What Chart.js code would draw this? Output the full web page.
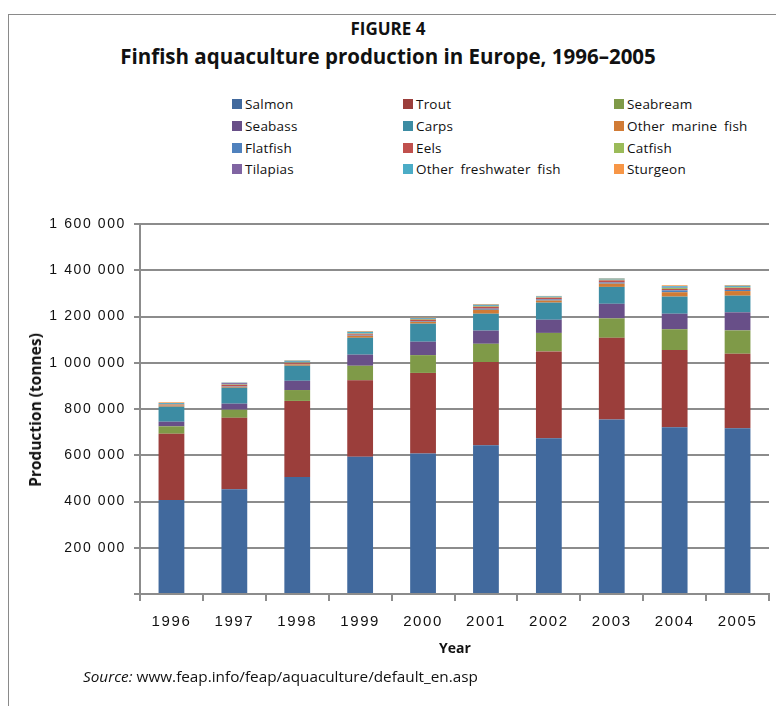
<!DOCTYPE html>
<html><head><meta charset="utf-8">
<script src="https://cdn.jsdelivr.net/npm/chart.js@4"></script>
<style>
body{margin:0;background:#fff;}
#wrap{position:relative;width:776px;height:706px;overflow:hidden;background:#fff;font-family:'Open Sans',sans-serif;color:#111;}
#frame{position:absolute;left:8px;top:14px;width:820px;height:740px;border-left:1.5px solid #8a8a8a;border-top:1.5px solid #8a8a8a;}
.t1{position:absolute;left:0;width:776px;text-align:center;font-weight:700;}
#cv{position:absolute;left:0;top:190px;}
.leg{position:absolute;font-family:'Open Sans',sans-serif;font-size:13.5px;letter-spacing:0.2px;word-spacing:3px;color:#111;white-space:nowrap;line-height:16px;}
.leg span{position:absolute;left:0;top:3px;width:10px;height:10px;}
#ytitle{position:absolute;left:35px;top:410px;transform:translate(-50%,-50%) rotate(-90deg);font-weight:700;font-size:15.5px;white-space:nowrap;}
#xtitle{position:absolute;left:455px;top:647px;transform:translate(-50%,-50%);font-weight:700;font-size:14px;}
#src{position:absolute;left:83px;top:666px;font-size:15.3px;white-space:nowrap;}
</style></head>
<body><div id="wrap">
<div id="frame"></div>
<div class="t1" style="top:17px;font-size:17px;">FIGURE 4</div>
<div class="t1" style="top:42px;font-size:20.5px;">Finfish aquaculture production in Europe, 1996–2005</div>
<div id="legend"></div>
<canvas id="cv" width="776" height="490"></canvas>
<div id="ytitle">Production (tonnes)</div>
<div id="xtitle">Year</div>
<div id="src"><i>Source:</i> www.feap.info/feap/aquaculture/default_en.asp</div>
</div>
<script>
const years = ['1996','1997','1998','1999','2000','2001','2002','2003','2004','2005'];
const seriesNames = ['Salmon','Trout','Seabream','Seabass','Carps','Other marine fish','Flatfish','Eels','Catfish','Tilapias','Other freshwater fish','Sturgeon'];
const salmon          = [406000,453000,506000,594000,608000,643000,673000,755000,721000,717000];
const trout           = [287000,309000,329000,330000,348000,360000,376000,353000,334000,322000];
const seabream        = [32000,35000,47000,63000,77000,79000,80000,84000,90000,101000];
const seabass         = [20000,26000,40000,48000,58000,57000,57000,63000,67000,78000];
const carps           = [65000,69000,65000,73000,78000,73000,74000,73000,74000,72000];
const otherMarine     = [5000,4000,6000,8000,8000,17000,9000,14000,19000,20000];
const flatfish        = [1000,2000,2000,2000,3000,5000,5000,5000,8000,5000];
const eels            = [3000,6000,4000,5000,6000,8000,7000,9000,6000,8000];
const catfish         = [2000,2000,2000,3000,3000,3000,2000,3000,4000,3000];
const tilapias        = [1000,6000,3000,2000,1000,1000,1000,1000,2000,2000];
const otherFreshwater = [4000,2000,5000,6000,4000,5000,3000,4000,6000,5000];
const sturgeon        = [3000,1000,2000,3000,2000,3000,2000,2000,4000,3000];
const yTicks = [0,200000,400000,600000,800000,1000000,1200000,1400000,1600000];

const seriesData = [salmon,trout,seabream,seabass,carps,otherMarine,flatfish,eels,catfish,tilapias,otherFreshwater,sturgeon];
const colors = ['#41699D','#9B3E3B','#7F9A48','#684F88','#3C8CA3','#D17B35','#4F81BD','#C0504D','#9BBB59','#8064A2','#4BACC6','#F79646'];

// legend (3 columns, 4 rows, row-wise order)
const legCols = [232, 403, 614];
const legRows = [96, 118, 140, 161];
const legend = document.getElementById('legend');
seriesNames.forEach((n,i)=>{
  const d = document.createElement('div');
  d.className='leg';
  d.style.left = legCols[i%3]+'px';
  d.style.top = legRows[Math.floor(i/3)]+'px';
  d.style.paddingLeft = '13px';
  d.innerHTML = '<span style="background:'+colors[i]+'"></span>'+n;
  legend.appendChild(d);
});

function fmt(v){ if(v===0) return ''; return String(v).replace(/\B(?=(\d{3})+(?!\d))/g,' '); }

const spacing = {id:'spacing', beforeDraw(c){ c.ctx.letterSpacing='1.6px'; }};

new Chart(document.getElementById('cv'), {
  type:'bar',
  data:{labels:years, datasets: seriesNames.map((n,i)=>({label:n,data:seriesData[i],backgroundColor:colors[i],borderWidth:0,barPercentage:0.41,categoryPercentage:1}))},
  options:{
    responsive:false, animation:false, devicePixelRatio:1,
    layout:{padding:{top:34,right:7,left:0,bottom:0}},
    plugins:{legend:{display:false},tooltip:{enabled:false}},
    scales:{
      x:{stacked:true,
         grid:{display:true,drawOnChartArea:false,drawTicks:true,tickLength:7,offset:true,color:'#8c8c8c',lineWidth:2},
         border:{display:true,color:'#8c8c8c',width:2},
         ticks:{color:'#111',font:{family:'Liberation Sans',size:15},padding:12,maxRotation:0},
         afterFit(s){s.height=86;}
      },
      y:{stacked:true,min:0,max:1600000,
         afterBuildTicks(s){s.ticks=yTicks.map(v=>({value:v}));},
         grid:{color:'#8c8c8c',lineWidth:2,tickLength:6},
         border:{display:true,color:'#8c8c8c',width:2},
         ticks:{color:'#111',font:{family:'Liberation Sans',size:14},padding:8,callback:(v)=>fmt(v)},
         afterFit(s){s.width=140;}
      }
    }
  },
  plugins:[spacing]
});
</script>
</body></html>
